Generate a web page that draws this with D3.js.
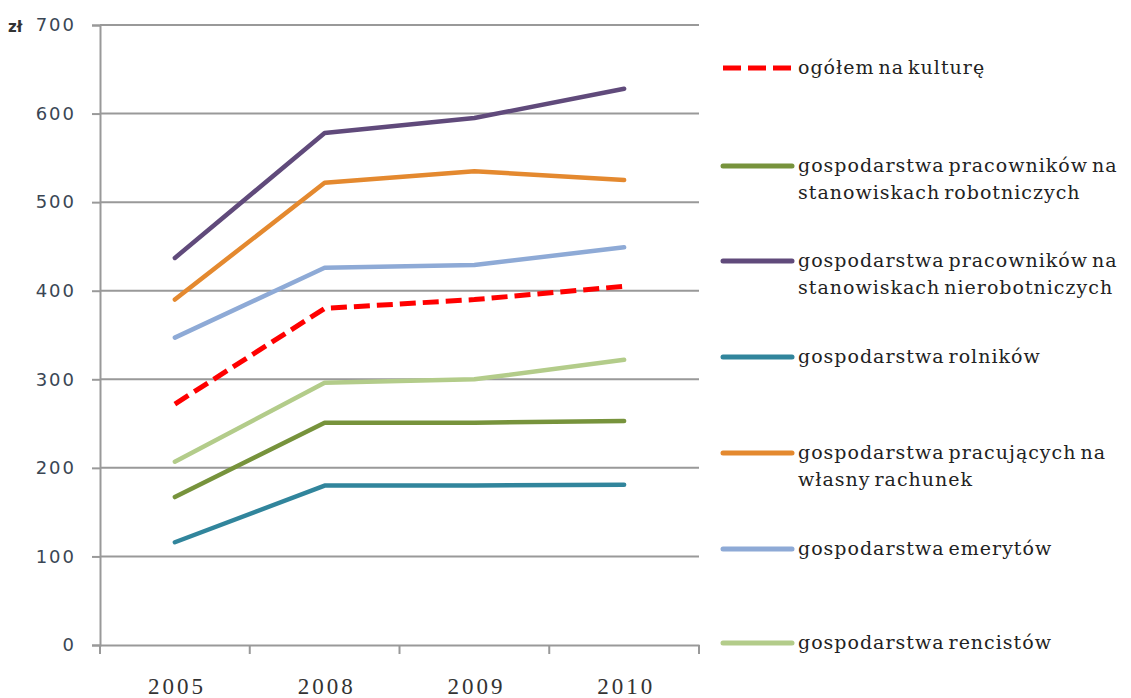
<!DOCTYPE html>
<html><head><meta charset="utf-8">
<script src="https://cdn.jsdelivr.net/npm/d3@7"></script>
<style>body{margin:0;background:#fff}svg{display:block}</style>
</head><body>
<svg id="c" width="1131" height="698"></svg>
<script>
const years = ["2005","2008","2009","2010"];
const yTicks = [0,100,200,300,400,500,600,700];
const seriesNames = [
  ["ogółem na kulturę"],
  ["gospodarstwa pracowników na","stanowiskach robotniczych"],
  ["gospodarstwa pracowników na","stanowiskach nierobotniczych"],
  ["gospodarstwa rolników"],
  ["gospodarstwa pracujących na","własny rachunek"],
  ["gospodarstwa emerytów"],
  ["gospodarstwa rencistów"]
];
const ogolem      = [272,380,390,405];
const robotnicze  = [167,251,251,253];
const nierobotn   = [437,578,595,628];
const rolnicy     = [116,180,180,181];
const wlasny      = [390,522,535,525];
const emeryci     = [347,426,429,449];
const rencisci    = [207,296,300,322];
const seriesValues = [ogolem, robotnicze, nierobotn, rolnicy, wlasny, emeryci, rencisci];
const colors = ["#ff0000","#77933c","#604a7b","#31859c","#e4892f","#8eaad6","#b3cc8a"];
const dashed = [true,false,false,false,false,false,false];

const svg = d3.select("#c");
const x = d3.scaleBand().domain(years).range([100,699]);
const y = d3.scaleLinear().domain([0,700]).range([645,25]);

// gridlines
svg.append("g").selectAll("line").data(yTicks.filter(d=>d>0)).join("line")
  .attr("x1",100).attr("x2",699).attr("y1",d=>y(d)).attr("y2",d=>y(d))
  .attr("stroke","#999").attr("stroke-width",2);

// y axis
const ya = svg.append("g").attr("transform","translate(100,0)")
  .call(d3.axisLeft(y).tickValues(yTicks).tickSize(8).tickPadding(16));
ya.select(".domain").attr("stroke","#999").attr("stroke-width",2);
ya.selectAll(".tick line").attr("stroke","#999").attr("stroke-width",2);
ya.selectAll(".tick text").attr("font-family","DejaVu Sans").attr("font-size",18)
  .attr("letter-spacing",2).attr("fill","#3a4654");

// x axis
const xa = svg.append("g").attr("transform","translate(0,645)")
  .call(d3.axisBottom(x).tickSize(0).tickPadding(33));
xa.select(".domain").attr("stroke","#999").attr("stroke-width",2);
xa.selectAll(".tick text").attr("font-family","Liberation Serif").attr("font-size",23)
  .attr("letter-spacing",3).attr("dx",2).attr("fill","#333");
const bounds = years.map(d=>x(d)).concat([x.range()[1]]);
svg.append("g").selectAll("line").data(bounds).join("line")
  .attr("x1",d=>d).attr("x2",d=>d).attr("y1",645).attr("y2",654)
  .attr("stroke","#999").attr("stroke-width",2);

svg.append("text").attr("x",8).attr("y",32).attr("font-family","DejaVu Sans")
  .attr("font-weight","bold").attr("font-size",15).attr("fill","#333").text("zł");

// lines
const line = d3.line().x((d,i)=>x(years[i])+x.bandwidth()/2).y(d=>y(d));
const order = [3,1,6,5,4,2,0];
order.forEach(i=>{
  svg.append("path").datum(seriesValues[i]).attr("d",line)
    .attr("fill","none").attr("stroke",colors[i]).attr("stroke-width",dashed[i]?5:4.5)
    .attr("stroke-linecap",dashed[i]?"butt":"round").attr("stroke-linejoin","round")
    .attr("stroke-dasharray",dashed[i]?"16,7":null);
});

// legend
const legendY = [68,166,261,357,453,549,643];
seriesNames.forEach((lines,i)=>{
  const g = svg.append("g").attr("transform",`translate(0,${legendY[i]})`);
  g.append("line").attr("x1",723).attr("x2",792).attr("y1",0).attr("y2",0)
    .attr("stroke",colors[i]).attr("stroke-width",5)
    .attr("stroke-linecap",dashed[i]?"butt":"round")
    .attr("stroke-dasharray",dashed[i]?"18,7":null);
  lines.forEach((t,j)=>{
    g.append("text").attr("x",798).attr("y",6+j*27).attr("font-family","DejaVu Serif")
      .attr("font-size",19).attr("letter-spacing",1).attr("word-spacing",-3)
      .attr("fill","#222").text(t);
  });
});
</script>
</body></html>
